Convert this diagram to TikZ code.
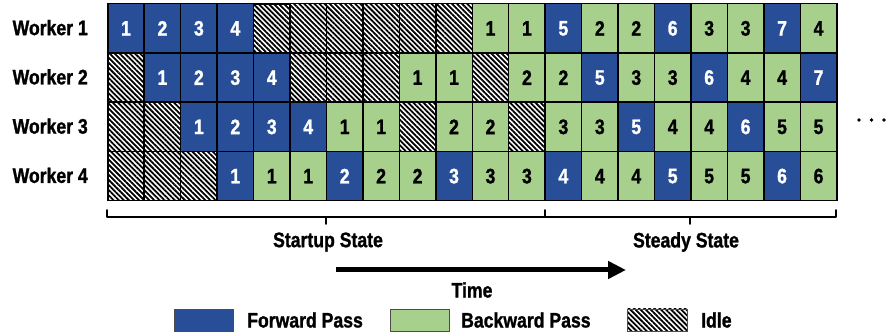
\documentclass[tikz,border=0pt]{standalone}
\usepackage{fontspec}
\setmainfont{Liberation Sans}[FakeStretch=0.84,BoldFeatures={FakeBold=1.2}]
\usetikzlibrary{patterns.meta,arrows.meta}
\definecolor{fwd}{RGB}{40,78,152}
\definecolor{bwd}{RGB}{168,208,141}
\begin{document}
\begin{tikzpicture}[x=1pt,y=1pt,
  font=\fontsize{21}{23}\selectfont\bfseries,
  cell/.style={draw=black,line width=1.5pt,minimum width=36.45pt,minimum height=49.25pt,
    inner sep=0pt,anchor=north west},
  hatch/.style={pattern={Lines[angle=-45,distance=3.6pt,line width=1.8pt]}},
  F/.style={cell,fill=fwd,text=white},
  B/.style={cell,fill=bwd,text=black},
  I/.style={cell,hatch},
  key/.style={draw=black!70,line width=0.8pt,minimum width=59pt,minimum height=22pt,inner sep=0pt},
  lbl/.style={inner sep=0pt},
  bracket/.style={line width=1.8pt,line cap=round,line join=round}
]
\useasboundingbox (0,0) rectangle (895,-336);

% schedule grid: one row per worker, one column per time slot
\foreach \row [count=\r] in {
  {F/1,F/2,F/3,F/4,I/{},I/{},I/{},I/{},I/{},I/{},B/1,B/1,F/5,B/2,B/2,F/6,B/3,B/3,F/7,B/4},
  {I/{},F/1,F/2,F/3,F/4,I/{},I/{},I/{},B/1,B/1,I/{},B/2,B/2,F/5,B/3,B/3,F/6,B/4,B/4,F/7},
  {I/{},I/{},F/1,F/2,F/3,F/4,B/1,B/1,I/{},B/2,B/2,I/{},B/3,B/3,F/5,B/4,B/4,F/6,B/5,B/5},
  {I/{},I/{},I/{},F/1,B/1,B/1,F/2,B/2,B/2,F/3,B/3,B/3,F/4,B/4,B/4,F/5,B/5,B/5,F/6,B/6}} {
  \node[lbl,anchor=east] (w\r) at (88,{-3-(\r-0.5)*49.25}) {Worker \r};
  \foreach \t/\n [count=\i from 0] in \row {
    \node[\t] (c\r-\i) at ({107+\i*36.45},{-3-(\r-1)*49.25}) {\n};
  }
}

% continuation dots
\foreach \k in {0,1,2}
  \fill (859+\k*12.5,-120) circle (1.8pt);

% bracket under the grid
\coordinate (bl) at (107,-217);
\coordinate (bm) at (545,-217);
\coordinate (br) at (836,-217);
\draw[bracket] (107,-210) -- (bl) -- (br) -- (836,-210);
\draw[bracket] (bm) -- (545,-210);
\draw[bracket] (326,-217) -- (326,-224);
\draw[bracket] (690,-217) -- (690,-224);

\node[lbl] (startup) at (328,-242) {Startup State};
\node[lbl] (steady) at (686,-242) {Steady State};

% time arrow
\coordinate (t0) at (336,-270);
\coordinate (t1) at (626,-270);
\draw[line width=5pt,-{Triangle[length=18pt,width=17pt]}] (t0) -- (t1);
\node[lbl] (time) at (472,-290) {Time};

% legend
\node[key,fill=fwd] (kf) at (203.5,-320) {};
\node[lbl,anchor=west] (lf) at (247,-320) {Forward Pass};
\node[key,fill=bwd] (kb) at (419.5,-320) {};
\node[lbl,anchor=west] (lb) at (461,-320) {Backward Pass};
\node[key,hatch,minimum width=60pt] (ki) at (657,-320) {};
\node[lbl,anchor=west] (li) at (701,-320) {Idle};
\end{tikzpicture}
\end{document}
